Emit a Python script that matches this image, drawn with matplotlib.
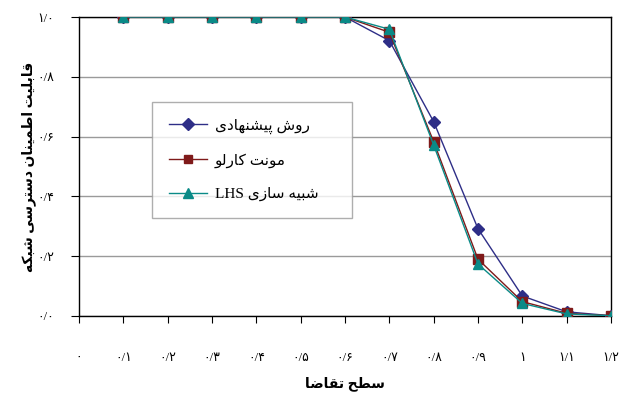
import matplotlib
matplotlib.use("Agg")
import matplotlib.pyplot as plt

# ------------------------------------------------------------------ data
demand = [0.0, 0.1, 0.2, 0.3, 0.4, 0.5, 0.6, 0.7, 0.8, 0.9, 1.0, 1.1, 1.2]
x_points = [0.1, 0.2, 0.3, 0.4, 0.5, 0.6, 0.7, 0.8, 0.9, 1.0, 1.1, 1.2]
proposed = [1.0, 1.0, 1.0, 1.0, 1.0, 1.0, 0.921, 0.650, 0.292, 0.067, 0.014, 0.001]
monte_carlo = [1.0, 1.0, 1.0, 1.0, 1.0, 1.0, 0.949, 0.583, 0.190, 0.048, 0.009, 0.001]
lhs = [1.0, 1.0, 1.0, 1.0, 1.0, 1.0, 0.959, 0.572, 0.174, 0.042, 0.007, 0.001]
y_ticks = [0.0, 0.2, 0.4, 0.6, 0.8, 1.0]

# ------------------------------------------------- persian text helpers
# (isolated, final, initial, medial); None -> letter does not join forward
FORMS = {
    "ا": (0xFE8D, 0xFE8E, None, None),
    "ب": (0xFE8F, 0xFE90, 0xFE91, 0xFE92),
    "پ": (0xFB56, 0xFB57, 0xFB58, 0xFB59),
    "ت": (0xFE95, 0xFE96, 0xFE97, 0xFE98),
    "ح": (0xFEA1, 0xFEA2, 0xFEA3, 0xFEA4),
    "د": (0xFEA9, 0xFEAA, None, None),
    "ر": (0xFEAD, 0xFEAE, None, None),
    "ز": (0xFEAF, 0xFEB0, None, None),
    "س": (0xFEB1, 0xFEB2, 0xFEB3, 0xFEB4),
    "ش": (0xFEB5, 0xFEB6, 0xFEB7, 0xFEB8),
    "ض": (0xFEBD, 0xFEBE, 0xFEBF, 0xFEC0),
    "ط": (0xFEC1, 0xFEC2, 0xFEC3, 0xFEC4),
    "ق": (0xFED5, 0xFED6, 0xFED7, 0xFED8),
    "ک": (0xFB8E, 0xFB8F, 0xFB90, 0xFB91),
    "ل": (0xFEDD, 0xFEDE, 0xFEDF, 0xFEE0),
    "م": (0xFEE1, 0xFEE2, 0xFEE3, 0xFEE4),
    "ن": (0xFEE5, 0xFEE6, 0xFEE7, 0xFEE8),
    "ه": (0xFEE9, 0xFEEA, 0xFEEB, 0xFEEC),
    "و": (0xFEED, 0xFEEE, None, None),
    "ی": (0xFBFC, 0xFBFD, 0xFBFE, 0xFBFF),
}


def rtl(text):
    out = []
    for i, c in enumerate(text):
        if c not in FORMS:
            out.append(c)
            continue
        prev = text[i - 1] if i > 0 else None
        nxt = text[i + 1] if i + 1 < len(text) else None
        jp = prev in FORMS and FORMS[prev][2] is not None
        jn = nxt in FORMS and FORMS[c][2] is not None
        iso, fin, ini, med = FORMS[c]
        f = med if (jp and jn) else fin if jp else ini if jn else iso
        out.append(chr(f))
    return "".join(out)[::-1]


def fa(s):
    return s.translate(str.maketrans("0123456789.", "۰۱۲۳۴۵۶۷۸۹/"))


# ---------------------------------------------------------------- figure
plt.rcParams["font.family"] = ["Liberation Serif", "DejaVu Sans"]

fig = plt.figure(figsize=(6.3, 4.03), dpi=100)
ax = fig.add_axes([0.1254, 0.2159, 0.8444, 0.7419])

ax.plot(x_points, proposed, color="#2e2e87", marker="D", ms=6, lw=1.0,
        label=rtl("روش پیشنهادی"), zorder=3)
ax.plot(x_points, monte_carlo, color="#7f1a1a", marker="s", ms=6.5, lw=1.0,
        label=rtl("مونت کارلو"), zorder=4)
ax.plot(x_points, lhs, color="#0a8a87", marker="^", ms=7.5, lw=1.0,
        label="LHS " + rtl("شبیه سازی"), zorder=5)

ax.set_xlim(0, 1.2)
ax.set_ylim(0, 1.0)
ax.set_xticks(demand)
ax.set_xticklabels([fa(f"{v:g}") for v in demand], fontsize=9)
ax.set_yticks(y_ticks)
ax.set_yticklabels([fa(f"{v:.1f}") for v in y_ticks], fontsize=9)
ax.tick_params(axis="x", length=5, pad=21, direction="out")
ax.tick_params(axis="y", length=6, pad=12, direction="out")
ax.yaxis.grid(True, color="#9a9a9a", lw=1.0)
ax.set_axisbelow(True)
for s in ax.spines.values():
    s.set_color("black")
    s.set_linewidth(1.0)

ax.set_xlabel(rtl("سطح تقاضا"), fontsize=10, fontweight="bold", labelpad=9)
ax.set_ylabel(rtl("قابلیت اطمینان دسترسی شبکه"), fontsize=10,
              fontweight="bold", labelpad=1)

leg = ax.legend(loc="lower left", bbox_to_anchor=(0.137, 0.328, 0.376, 0.378),
                mode="expand", borderaxespad=0, fontsize=11, frameon=True,
                fancybox=False, handlelength=2.5, handletextpad=0.5,
                labelspacing=1.25, borderpad=1.1, markerscale=0.95)
leg.get_frame().set_edgecolor("#9a9a9a")
leg.get_frame().set_linewidth(1.0)

fig.savefig("out.png", dpi=100)
